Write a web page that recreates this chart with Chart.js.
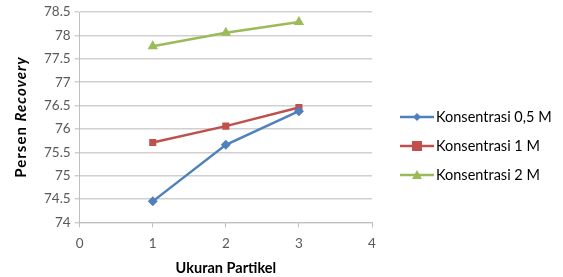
<!doctype html>
<html lang="en">
<head>
<meta charset="utf-8">
<script src="https://cdn.jsdelivr.net/npm/chart.js"></script>
<style>
  html, body { margin: 0; padding: 0; background: #fff; }
  #wrap { width: 563px; height: 277px; }
</style>
</head>
<body>
<div id="wrap">
  <canvas id="myChart" width="563" height="277"></canvas>
</div>

<script>
  // data
  const ukuran = [1, 2, 3];
  const konsentrasi05 = [74.45, 75.66, 76.38];
  const konsentrasi1 = [75.71, 76.06, 76.46];
  const konsentrasi2 = [77.77, 78.06, 78.29];
  const seriesNames = ['Konsentrasi 0,5 M', 'Konsentrasi 1 M', 'Konsentrasi 2 M'];
  const colors = ['#4F81BD', '#C0504D', '#9BBB59'];
  const markers = ['rectRot', 'rect', 'triangle'];

  const fontFam = 'Lato, "Open Sans", sans-serif';

  function toPoints(ys) {
    const pts = [];
    for (let i = 0; i < ukuran.length; i++) {
      pts.push({ x: ukuran[i], y: ys[i] });
    }
    return pts;
  }

  function drawMarker(g, marker, cx, cy) {
    g.beginPath();
    if (marker == 'rect') {
      g.rect(cx - 5, cy - 5, 10, 10);
    } else if (marker == 'rectRot') {
      g.moveTo(cx, cy - 4); g.lineTo(cx + 4, cy); g.lineTo(cx, cy + 4); g.lineTo(cx - 4, cy);
    } else {
      g.moveTo(cx, cy - 5); g.lineTo(cx + 5, cy + 4); g.lineTo(cx - 5, cy + 4);
    }
    g.closePath();
    g.fill();
  }

  const allSeries = [konsentrasi05, konsentrasi1, konsentrasi2];
  const datasets = [];
  for (let i = 0; i < allSeries.length; i++) {
    datasets.push({
      label: seriesNames[i],
      data: toPoints(allSeries[i]),
      borderColor: colors[i],
      backgroundColor: colors[i],
      borderWidth: 2.5,
      pointStyle: markers[i],
      pointRadius: i == 2 ? 6 : 5,
      pointHoverRadius: i == 2 ? 6 : 5,
      pointBorderWidth: 0,
      showLine: true,
      tension: 0
    });
  }

  // y title with italic "Recovery", and the legend on the right
  const extras = {
    id: 'extras',
    afterDraw(chart) {
      const ctx = chart.ctx;
      ctx.save();
      ctx.translate(21, 117);
      ctx.rotate(-Math.PI / 2);
      ctx.fillStyle = '#000';
      ctx.textBaseline = 'middle';
      ctx.letterSpacing = '1px';
      const f1 = 'bold 15px ' + fontFam;
      const f2 = 'italic bold 15px ' + fontFam;
      ctx.font = f1;
      const a = 'Persen ';
      const wa = ctx.measureText(a).width;
      ctx.font = f2;
      const b = 'Recovery';
      const wb = ctx.measureText(b).width;
      let x = -(wa + wb) / 2;
      ctx.font = f1;
      ctx.fillText(a, x, 0);
      ctx.font = f2;
      ctx.fillText(b, x + wa, 0);
      ctx.restore();

      ctx.save();
      const rowY = [117, 146, 175];
      chart.data.datasets.forEach(function(ds, i) {
        const y = rowY[i];
        ctx.strokeStyle = colors[i];
        ctx.fillStyle = colors[i];
        ctx.lineWidth = 2.5;
        ctx.beginPath();
        ctx.moveTo(400, y);
        ctx.lineTo(434, y);
        ctx.stroke();
        drawMarker(ctx, markers[i], 417, y);
        ctx.fillStyle = '#000';
        ctx.font = '14.5px ' + fontFam;
        ctx.textBaseline = 'middle';
        ctx.fillText(ds.label, 436, y);
      });
      ctx.restore();
    }
  };

  const canvas = document.getElementById('myChart');
  const setup = {
    type: 'scatter',
    data: { datasets: datasets },
    plugins: [extras],
    options: {
      responsive: false,
      animation: false,
      layout: { padding: { left: 40, right: 191, top: 11, bottom: 0 } },
      plugins: {
        tooltip: { enabled: false },
        legend: { display: false }
      },
      scales: {
        x: {
          type: 'linear',
          min: 0,
          max: 4,
          ticks: { stepSize: 1, color: '#595959', font: { family: fontFam, size: 13.5 }, padding: 8 },
          grid: { drawOnChartArea: false, tickLength: 5, color: '#bfbfbf' },
          border: { color: '#bfbfbf', width: 1 },
          title: { display: true, text: 'Ukuran Partikel', color: '#000', font: { family: fontFam, size: 14.5, weight: 'bold' }, padding: { top: 0, bottom: 0 } }
        },
        y: {
          min: 74,
          max: 78.5,
          ticks: {
            stepSize: 0.5, color: '#595959', font: { family: fontFam, size: 13.5 }, padding: 4,
            callback: function(v) { return String(Math.round(v * 10) / 10); }
          },
          grid: { color: '#d0d0d0', lineWidth: 1.5, tickLength: 5 },
          border: { color: '#bfbfbf', width: 1 }
        }
      }
    }
  };
  const chart = new Chart(canvas, setup);
</script>
</body>
</html>
